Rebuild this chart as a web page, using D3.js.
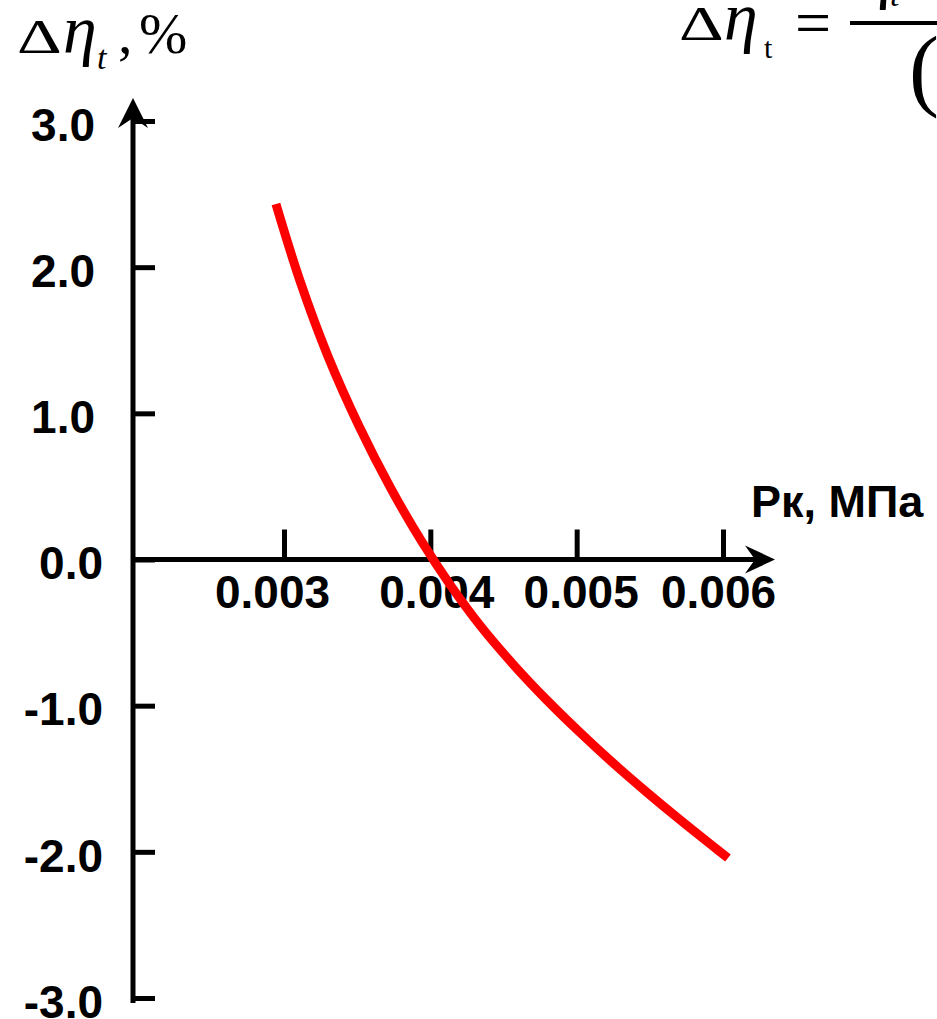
<!DOCTYPE html>
<html>
<head>
<meta charset="utf-8">
<script src="https://cdn.jsdelivr.net/npm/d3@7"></script>
<style>
  body { margin: 0; background: #fff; }
  .tick text { font-family: "Liberation Sans", Arial, sans-serif; font-weight: bold; font-size: 46px; fill: #000; }
  .tick line { stroke: #000; stroke-width: 5; }
  .math { font-family: "Liberation Serif", "Times New Roman", serif; fill: #000; }
</style>
</head>
<body>
<svg width="937" height="1019"></svg>
<script>

// Pk (MPa) vs efficiency change
const pk   = [0.002945, 0.003109, 0.003301, 0.003513, 0.003731, 0.003943, 0.004134, 0.004339,
              0.004565, 0.004797, 0.005023, 0.005248, 0.005481, 0.005706, 0.005932, 0.006034];
const dEta = [2.432, 1.907, 1.389, 0.912, 0.485, 0.120, -0.171, -0.450,
              -0.716, -0.963, -1.184, -1.392, -1.594, -1.781, -1.962, -2.042];

const xTicks = [0.003, 0.004, 0.005, 0.006];
const yTicks = [3, 2, 1, 0, -1, -2, -3];

let svg = d3.select('svg');

let x = d3.scaleLinear().domain([0.003, 0.006]).range([284, 723]);
let y = d3.scaleLinear().domain([-3, 3]).range([998, 121]);

let axisX = 133;       // where the vertical axis stands
let axisY = y(0);      // where the horizontal axis runs

// plain hyphen for negatives, like the original
let fmtY = d => d3.format('.1f')(d).replace('\u2212', '-');

// Vertical axis: ticks to the right, labels on the left
let gy = svg.append('g')
  .attr('transform', 'translate(' + axisX + ',0)')
  .call(d3.axisLeft(y).tickValues(yTicks).tickSize(-22).tickPadding(31).tickFormat(fmtY));
gy.select('.domain').remove();
gy.selectAll('.tick text')
  .attr('dy', '0.42em')
  .attr('x', d => d > 0 ? -38 : -30);

// Horizontal axis: ticks up, labels below (labels sit a little off their ticks in the original)
let labelShift = [-12, 6, 4, -5];
let gx = svg.append('g')
  .attr('transform', 'translate(0,' + axisY + ')')
  .call(d3.axisBottom(x).tickValues(xTicks).tickSize(-30).tickPadding(16).tickFormat(d3.format('.3f')));
gx.select('.domain').remove();
gx.selectAll('.tick text')
  .attr('dx', (d, i) => labelShift[i]);

// axis lines with arrow heads
svg.append('line')
  .attr('x1', axisX).attr('x2', axisX)
  .attr('y1', 1003).attr('y2', 104)
  .attr('stroke', '#000').attr('stroke-width', 5);
svg.append('path')
  .attr('d', `M${axisX},98 L${axisX - 15},128 L${axisX},118 L${axisX + 15},128 Z`)
  .attr('fill', '#000');

svg.append('line')
  .attr('x1', axisX - 2).attr('x2', 768)
  .attr('y1', axisY).attr('y2', axisY)
  .attr('stroke', '#000').attr('stroke-width', 5);
svg.append('path')
  .attr('d', `M775,${axisY} L745,${axisY - 14} L755,${axisY} L745,${axisY + 14} Z`)
  .attr('fill', '#000');

// the curve
let line = d3.line()
  .x(d => x(d[0]))
  .y(d => y(d[1]))
  .curve(d3.curveCatmullRom.alpha(0.5));

svg.append('path')
  .datum(d3.zip(pk, dEta))
  .attr('d', line)
  .attr('fill', 'none')
  .attr('stroke', '#ff0000')
  .attr('stroke-width', 9);

// x axis title
svg.append('text')
  .attr('x', 751).attr('y', 517)
  .style('font-family', '"Liberation Sans", Arial, sans-serif')
  .style('font-weight', 'bold')
  .style('font-size', '45px')
  .text('Рк, МПа');

// y axis title: Δη_t, %
svg.append('text').attr('class', 'math')
  .attr('transform', 'translate(17,53) scale(1.45,1)')
  .style('font-size', '48px')
  .text('Δ');
svg.append('text').attr('class', 'math')
  .attr('x', 63).attr('y', 53)
  .style('font-size', '68px').style('font-style', 'italic')
  .text('η');
svg.append('text').attr('class', 'math')
  .attr('x', 97).attr('y', 69)
  .style('font-size', '34px').style('font-style', 'italic')
  .text('t');
svg.append('text').attr('class', 'math')
  .attr('x', 118).attr('y', 53)
  .style('font-size', '58px')
  .text(',');
svg.append('text').attr('class', 'math')
  .attr('x', 139).attr('y', 53)
  .style('font-size', '58px')
  .text('%');

// formula in the top right corner, cut by the edge
svg.append('text').attr('class', 'math')
  .attr('transform', 'translate(679,40) scale(1.45,1)')
  .style('font-size', '48px')
  .text('Δ');
svg.append('text').attr('class', 'math')
  .attr('x', 724).attr('y', 40)
  .style('font-size', '68px').style('font-style', 'italic')
  .text('η');
svg.append('text').attr('class', 'math')
  .attr('x', 764).attr('y', 58)
  .style('font-size', '30px')
  .text('t');
svg.append('text').attr('class', 'math')
  .attr('x', 795).attr('y', 44)
  .style('font-size', '64px')
  .text('=');
svg.append('line')
  .attr('x1', 850).attr('x2', 937)
  .attr('y1', 23).attr('y2', 23)
  .attr('stroke', '#000').attr('stroke-width', 4);
svg.append('text').attr('class', 'math')
  .attr('x', 860).attr('y', -4)
  .style('font-size', '68px').style('font-style', 'italic')
  .text('η');
svg.append('text').attr('class', 'math')
  .attr('x', 890).attr('y', 6)
  .style('font-size', '34px').style('font-style', 'italic')
  .text('t');
svg.append('text').attr('class', 'math')
  .attr('x', 909).attr('y', 99)
  .style('font-size', '90px')
  .text('(');

</script>
</body>
</html>
